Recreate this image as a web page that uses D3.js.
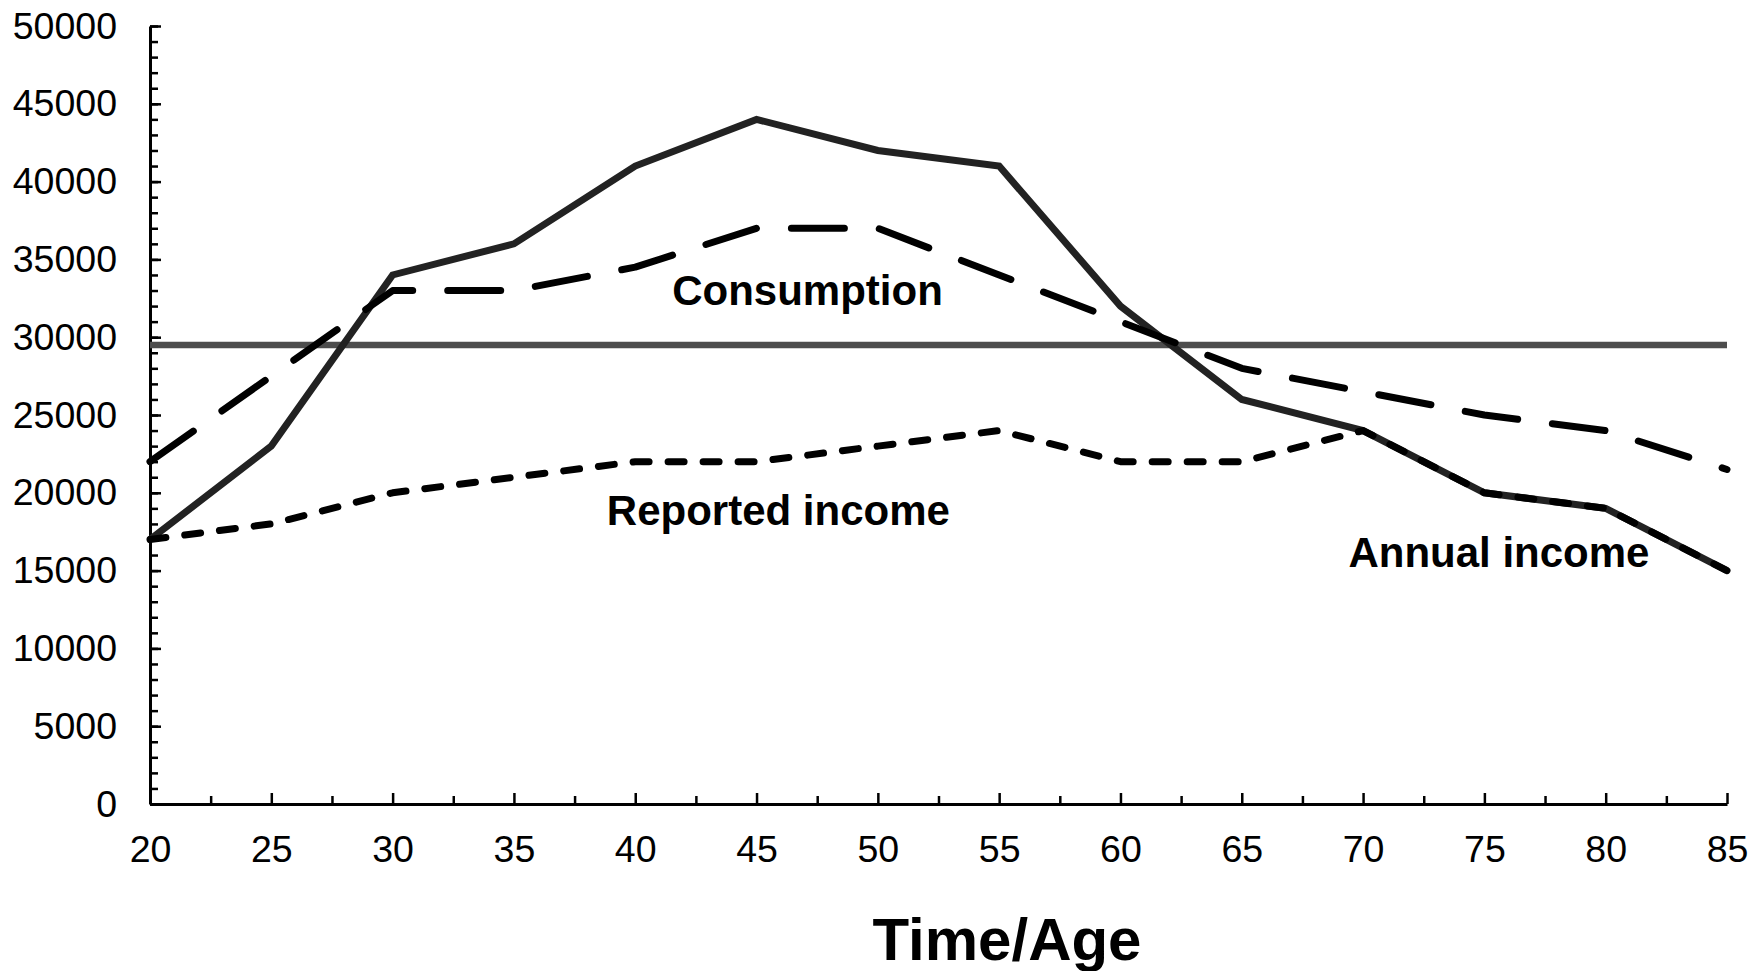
<!DOCTYPE html>
<html>
<head>
<meta charset="utf-8">
<script src="https://cdn.jsdelivr.net/npm/d3@7"></script>
<style>
  body { margin: 0; background: #fff; }
  svg text { font-family: "Liberation Sans", Arial, sans-serif; }
</style>
</head>
<body>
<svg id="chart" width="1750" height="971"></svg>
<script>
// ages on the x axis
var ages = [20, 25, 30, 35, 40, 45, 50, 55, 60, 65, 70, 75, 80, 85];
// series values
var annualIncome = [17000, 23000, 34000, 36000, 41000, 44000, 42000, 41000, 32000, 26000, 24000, 20000, 19000, 15000];
var consumption = [22000, 27500, 33000, 33000, 34500, 37000, 37000, 34000, 31000, 28000, 26500, 25000, 24000, 21500];
var reportedIncome = [17000, 18000, 20000, 21000, 22000, 22000, 23000, 24000, 22000, 22000, 24000, 20000, 19000, 15000];
var permanentIncome = 29500;

var xTicks = [20, 25, 30, 35, 40, 45, 50, 55, 60, 65, 70, 75, 80, 85];
var yTicks = [0, 5000, 10000, 15000, 20000, 25000, 30000, 35000, 40000, 45000, 50000];

// label anchors in data units: [text, age, value]
var labels = [
  ['Consumption', 47.1, 32100],
  ['Reported income', 45.9, 17900],
  ['Annual income', 75.6, 15200]
];

var svg = d3.select('#chart');
var mLeft = 150, mRight = 1727, mTop = 26, mBottom = 804;

var x = d3.scaleLinear().domain([20, 85]).range([mLeft, mRight]);
var y = d3.scaleLinear().domain([0, 50000]).range([mBottom, mTop]);

function rows(vals) {
  return ages.map(function (a, i) { return [a, vals[i]]; });
}
var line = d3.line()
  .x(function (d) { return x(d[0]); })
  .y(function (d) { return y(d[1]); });

// minor ticks first
svg.append('g')
  .attr('transform', 'translate(' + mLeft + ',0)')
  .call(d3.axisLeft(y).tickValues(d3.range(0, 50001, 1000)).tickSize(-8).tickFormat(''))
  .call(function (g) { g.select('.domain').remove(); })
  .selectAll('line').attr('stroke', '#000').attr('stroke-width', 2.5);

svg.append('g')
  .attr('transform', 'translate(0,' + mBottom + ')')
  .call(d3.axisBottom(x).tickValues(d3.range(22.5, 85, 5)).tickSize(-8).tickFormat(''))
  .call(function (g) { g.select('.domain').remove(); })
  .selectAll('line').attr('stroke', '#000').attr('stroke-width', 2.5);

// main axes
var yAxis = svg.append('g')
  .attr('transform', 'translate(' + mLeft + ',0)')
  .call(d3.axisLeft(y).tickValues(yTicks).tickSize(-11).tickSizeOuter(0).tickPadding(33).tickFormat(d3.format('d')));

var xAxis = svg.append('g')
  .attr('transform', 'translate(0,' + mBottom + ')')
  .call(d3.axisBottom(x).tickValues(xTicks).tickSize(-11).tickSizeOuter(0).tickPadding(31).tickFormat(d3.format('d')));

[yAxis, xAxis].forEach(function (g) {
  g.select('.domain').attr('stroke', '#000').attr('stroke-width', 3);
  g.selectAll('.tick line').attr('stroke', '#000').attr('stroke-width', 2.5);
  g.selectAll('.tick text')
    .attr('fill', '#000')
    .style('font-size', '37.5px')
    .style('font-family', '"Liberation Sans", Arial, sans-serif');
});

// permanent income level
svg.append('line')
  .attr('x1', x(20)).attr('x2', x(85))
  .attr('y1', y(permanentIncome)).attr('y2', y(permanentIncome))
  .attr('stroke', '#4d4d4d')
  .attr('stroke-width', 6.5);

svg.append('path')
  .datum(rows(annualIncome))
  .attr('d', line)
  .attr('fill', 'none')
  .attr('stroke', '#222')
  .attr('stroke-width', 7)
  .attr('stroke-linejoin', 'miter');

svg.append('path')
  .datum(rows(consumption))
  .attr('d', line)
  .attr('fill', 'none')
  .attr('stroke', '#000')
  .attr('stroke-width', 7)
  .attr('stroke-linecap', 'round')
  .attr('stroke-linejoin', 'round')
  .attr('stroke-dasharray', '53 35');

svg.append('path')
  .datum(rows(reportedIncome))
  .attr('d', line)
  .attr('fill', 'none')
  .attr('stroke', '#000')
  .attr('stroke-width', 7)
  .attr('stroke-linecap', 'round')
  .attr('stroke-linejoin', 'round')
  .attr('stroke-dasharray', '16 19');

svg.selectAll('text.note')
  .data(labels)
  .enter().append('text')
  .attr('class', 'note')
  .attr('x', function (d) { return x(d[1]); })
  .attr('y', function (d) { return y(d[2]); })
  .attr('text-anchor', 'middle')
  .style('font-size', '42px')
  .style('font-weight', 'bold')
  .attr('fill', '#000')
  .text(function (d) { return d[0]; });

svg.append('text')
  .attr('x', 1007)
  .attr('y', 960)
  .attr('text-anchor', 'middle')
  .style('font-size', '60px')
  .style('font-weight', 'bold')
  .attr('fill', '#000')
  .text('Time/Age');
</script>
</body>
</html>
